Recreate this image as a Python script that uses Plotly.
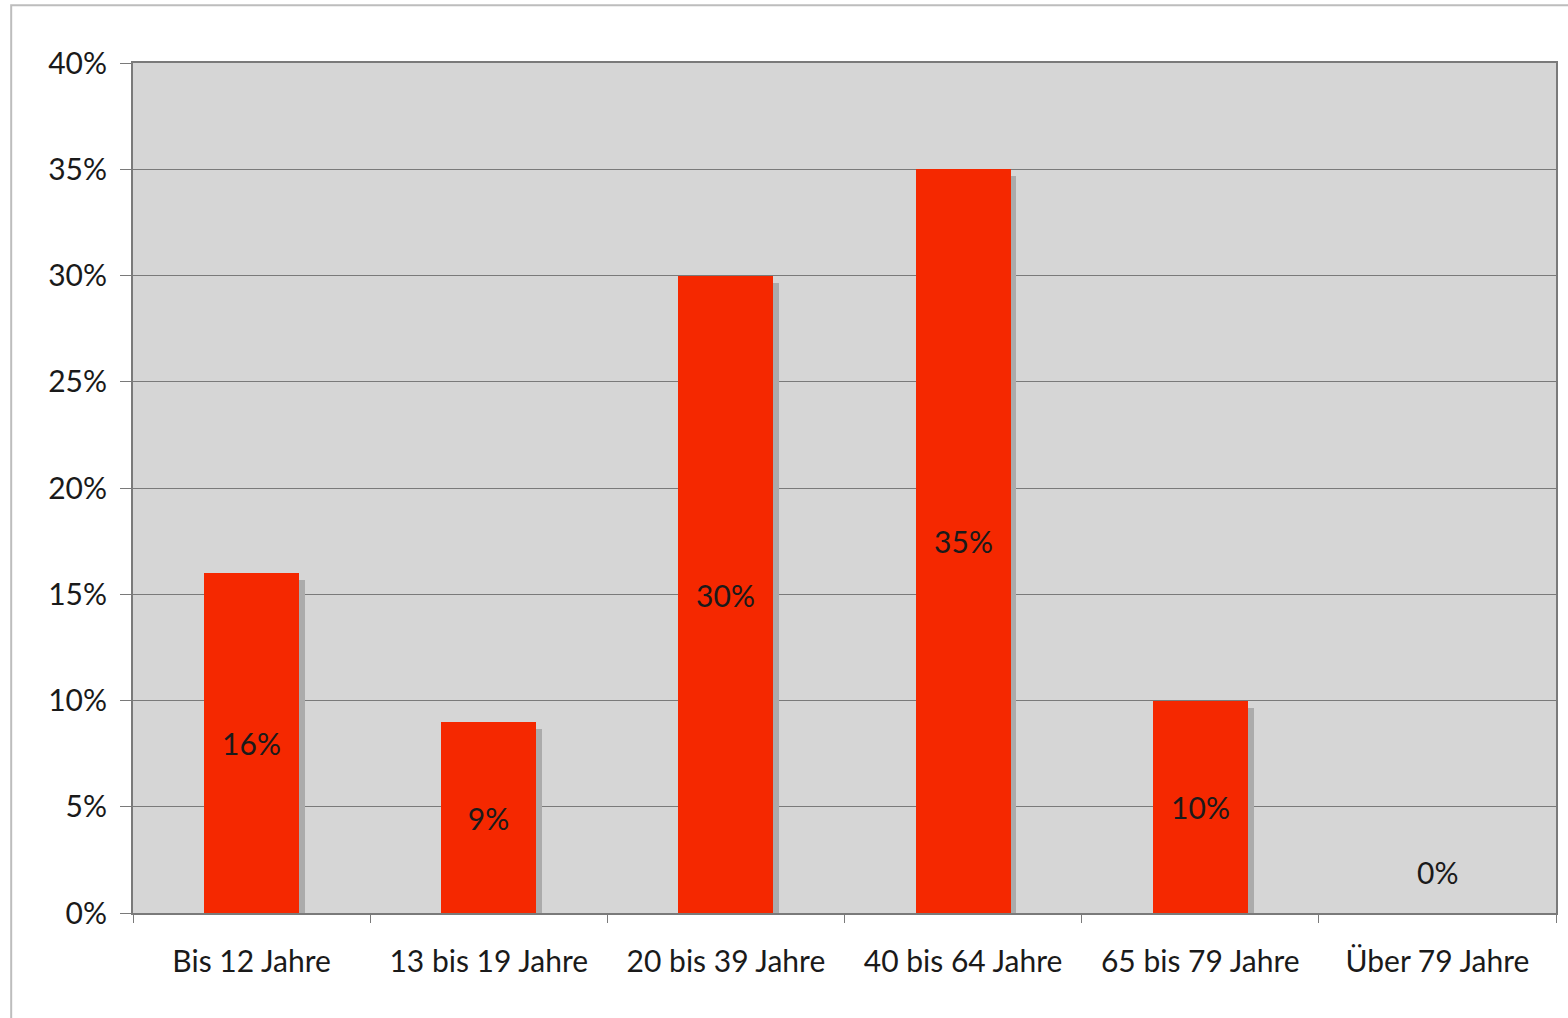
import plotly.graph_objects as go

# Age distribution data
categories = ["Bis 12 Jahre", "13 bis 19 Jahre", "20 bis 39 Jahre",
              "40 bis 64 Jahre", "65 bis 79 Jahre", "Über 79 Jahre"]
shares = [16, 9, 30, 35, 10, 0]
y_ticks = [0, 5, 10, 15, 20, 25, 30, 35, 40]
y_tick_labels = [f"{t}%" for t in y_ticks]

FONT = "Lato"
BAR_RED = "#F52800"
SHADOW = "#ABABAB"
PLOT_BG = "#D6D6D6"
LINE = "#7A7A7A"
TEXT = "#1A1A1A"

bar_width = 0.4
shadow_dx = 0.025   # shadow shift to the right, in category units
shadow_dy = 0.33    # shadow drop, in percent units

fig = go.Figure()

# drop shadow behind each bar
fig.add_trace(go.Bar(
    x=categories,
    y=[max(v - shadow_dy, 0) for v in shares],
    width=bar_width,
    offset=-bar_width / 2 + shadow_dx,
    marker=dict(color=SHADOW, line=dict(width=0)),
    hoverinfo="skip",
    showlegend=False,
))

# main bars with the value written in the middle
fig.add_trace(go.Bar(
    x=categories,
    y=shares,
    width=bar_width,
    offset=-bar_width / 2,
    marker=dict(color=BAR_RED, line=dict(width=0)),
    text=[f"{v}%" if v > 0 else "" for v in shares],
    textposition="inside",
    insidetextanchor="middle",
    textangle=0,
    textfont=dict(family=FONT, size=30, color=TEXT),
    showlegend=False,
))

# label for empty categories sits just above the baseline
for cat, v in zip(categories, shares):
    if v == 0:
        fig.add_annotation(x=cat, y=v, text=f"{v}%", showarrow=False,
                           yanchor="middle", yshift=41,
                           font=dict(family=FONT, size=30, color=TEXT))

# light frame around the whole chart
fig.add_shape(type="rect", xref="paper", yref="paper",
              x0=-0.0856, x1=1.01, y0=-0.13, y1=1.068,
              line=dict(color="#BDBDBD", width=2), fillcolor="rgba(0,0,0,0)",
              layer="below")

fig.update_layout(
    width=1568, height=1018,
    margin=dict(l=133, r=10, t=63, b=105),
    paper_bgcolor="white",
    plot_bgcolor=PLOT_BG,
    barmode="overlay",
    bargap=0,
    font=dict(family=FONT, size=30, color=TEXT),
    xaxis=dict(
        type="category",
        showgrid=False,
        showline=True, linecolor=LINE, linewidth=2, mirror=True,
        ticks="outside", tickson="boundaries", ticklen=8, tickcolor=LINE,
        tickwidth=1,
        tickfont=dict(family=FONT, size=30, color=TEXT),
        ticklabelstandoff=21,
    ),
    yaxis=dict(
        range=[0, 40],
        tickvals=y_ticks, ticktext=y_tick_labels,
        showgrid=True, gridcolor=LINE, gridwidth=1,
        zeroline=False,
        showline=True, linecolor=LINE, linewidth=2, mirror=True,
        ticks="outside", ticklen=11, tickcolor=LINE, tickwidth=1,
        tickfont=dict(family=FONT, size=30, color=TEXT),
        ticklabelstandoff=7,
    ),
)

fig.write_html("out.html")
